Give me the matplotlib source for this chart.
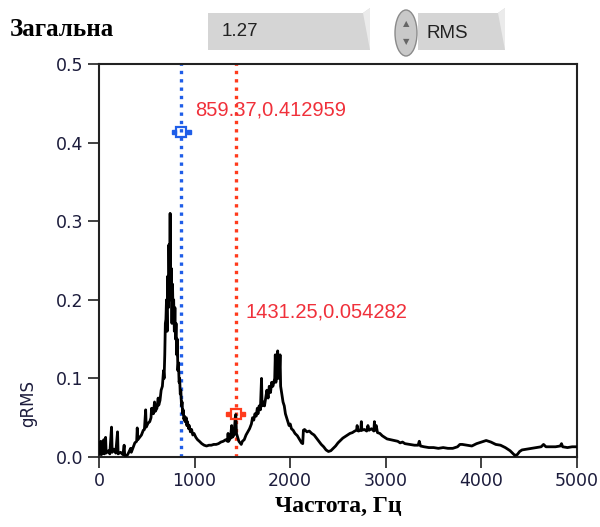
import matplotlib
matplotlib.use("Agg")
import matplotlib.pyplot as plt
from matplotlib.patches import Ellipse, Polygon

# spectrum (Hz, gRMS)
freq = [6, 19, 25, 44, 50, 56, 69, 75, 100, 113, 131, 138, 156, 175, 194, 200, 225, 250, 263, 269,
        288, 300, 331, 338, 356, 375, 394, 400, 406, 425, 444, 463, 475, 488, 494, 513, 531, 544, 550,
        569, 581, 588, 606, 619, 625, 638, 650, 663, 675, 681, 688, 694, 700, 706, 713, 719, 725, 731,
        738, 744, 750, 756, 763, 769, 775, 781, 788, 794, 800, 806, 813, 819, 825, 831, 838, 844, 850,
        856, 863, 869, 875, 881, 888, 894, 900, 913, 919, 925, 938, 944, 956, 969, 981, 994, 1013, 1031,
        1050, 1075, 1100, 1125, 1150, 1175, 1200, 1225, 1250, 1275, 1300, 1325, 1344, 1350, 1356, 1375,
        1388, 1394, 1413, 1425, 1431, 1438, 1450, 1463, 1475, 1488, 1500, 1519, 1538, 1556, 1575, 1594,
        1606, 1619, 1631, 1644, 1656, 1663, 1675, 1688, 1700, 1706, 1719, 1731, 1744, 1756, 1769, 1781,
        1794, 1806, 1819, 1838, 1844, 1850, 1863, 1869, 1875, 1888, 1894, 1900, 1913, 1925, 1938, 1950,
        1963, 1975, 1988, 2000, 2013, 2031, 2050, 2075, 2100, 2119, 2131, 2138, 2150, 2175, 2200, 2225,
        2250, 2275, 2300, 2325, 2350, 2375, 2400, 2425, 2450, 2475, 2500, 2525, 2550, 2575, 2600, 2625,
        2650, 2675, 2694, 2700, 2713, 2738, 2744, 2750, 2775, 2800, 2813, 2825, 2850, 2875, 2881, 2888,
        2900, 2913, 2938, 2963, 2988, 3013, 3050, 3088, 3125, 3150, 3175, 3200, 3250, 3300, 3338, 3350,
        3363, 3400, 3450, 3500, 3550, 3600, 3650, 3700, 3750, 3775, 3800, 3850, 3900, 3950, 4000, 4050,
        4075, 4100, 4150, 4200, 4250, 4300, 4325, 4350, 4375, 4400, 4425, 4475, 4525, 4575, 4625, 4650,
        4675, 4725, 4775, 4825, 4838, 4850, 4900, 4950, 5000]
grms = [0.004, 0.02, 0.003, 0.006, 0.022, 0.004, 0.025, 0.005, 0.008, 0.004, 0.038, 0.006, 0.01, 0.005,
        0.032, 0.004, 0.006, 0.003, 0.015, 0.002, 0.002, 0.003, 0.011, 0.006, 0.012, 0.018, 0.02, 0.037,
        0.022, 0.025, 0.028, 0.034, 0.035, 0.06, 0.038, 0.043, 0.045, 0.05, 0.062, 0.055, 0.07, 0.058,
        0.062, 0.075, 0.066, 0.072, 0.085, 0.09, 0.11, 0.1, 0.13, 0.17, 0.175, 0.2, 0.16, 0.23, 0.19,
        0.27, 0.21, 0.31, 0.2, 0.24, 0.17, 0.22, 0.18, 0.2, 0.16, 0.19, 0.15, 0.17, 0.13, 0.15, 0.11,
        0.12, 0.095, 0.1, 0.08, 0.085, 0.065, 0.07, 0.055, 0.06, 0.048, 0.052, 0.045, 0.05, 0.04, 0.045,
        0.036, 0.04, 0.032, 0.035, 0.028, 0.03, 0.025, 0.022, 0.02, 0.017, 0.015, 0.014, 0.015, 0.015,
        0.016, 0.016, 0.017, 0.019, 0.02, 0.022, 0.02, 0.03, 0.02, 0.024, 0.04, 0.025, 0.028, 0.05,
        0.054, 0.03, 0.025, 0.02, 0.018, 0.016, 0.02, 0.022, 0.028, 0.032, 0.036, 0.042, 0.05, 0.047,
        0.055, 0.052, 0.062, 0.055, 0.065, 0.06, 0.1, 0.065, 0.07, 0.065, 0.075, 0.085, 0.075, 0.09,
        0.082, 0.095, 0.09, 0.1, 0.13, 0.095, 0.11, 0.135, 0.1, 0.11, 0.13, 0.09, 0.08, 0.07, 0.065,
        0.055, 0.05, 0.045, 0.04, 0.042, 0.036, 0.034, 0.03, 0.027, 0.022, 0.018, 0.017, 0.034, 0.035,
        0.032, 0.033, 0.03, 0.028, 0.024, 0.02, 0.016, 0.013, 0.009, 0.007, 0.008, 0.011, 0.014, 0.018,
        0.021, 0.024, 0.026, 0.028, 0.03, 0.031, 0.033, 0.034, 0.04, 0.033, 0.034, 0.045, 0.034, 0.035,
        0.033, 0.04, 0.034, 0.036, 0.033, 0.045, 0.034, 0.04, 0.031, 0.03, 0.027, 0.025, 0.023, 0.022,
        0.021, 0.02, 0.018, 0.019, 0.017, 0.016, 0.015, 0.015, 0.02, 0.014, 0.013, 0.012, 0.012, 0.011,
        0.012, 0.011, 0.011, 0.013, 0.016, 0.016, 0.015, 0.014, 0.017, 0.019, 0.021, 0.02, 0.019, 0.016,
        0.015, 0.012, 0.008, 0.005, 0.002, 0.003, 0.007, 0.009, 0.01, 0.011, 0.012, 0.013, 0.016, 0.013,
        0.013, 0.013, 0.014, 0.017, 0.013, 0.012, 0.013, 0.013]

# cursors
cur_x = [859.37, 1431.25]
cur_y = [0.412959, 0.054282]
cur_col = ['#1f5ee8', '#ff3b1c']
cur_lbl = ['859.37,0.412959', '1431.25,0.054282']
lbl_pos = [(1005, 0.441), (1535, 0.184)]

total_value = '1.27'
mode = 'RMS'

xticks = [0, 1000, 2000, 3000, 4000, 5000]
yticks = [0.0, 0.1, 0.2, 0.3, 0.4, 0.5]

fig = plt.figure(figsize=(6.0, 5.27), dpi=100)
fig.patch.set_facecolor('white')

ax = fig.add_axes([99 / 600, 70 / 527, 478 / 600, 393 / 527])
ax.plot(freq, grms, color='black', lw=2.0, zorder=3)

for x, y, c in zip(cur_x, cur_y, cur_col):
    ax.axvline(x, color=c, ls=(0, (1, 1.5)), lw=2.4, zorder=2)
    ax.plot([x], [y], marker='s', ms=7, mfc='none', mec=c, mew=1.6, zorder=5)
    ax.plot([x - 80, x + 80], [y, y], ls='none', marker='s', ms=2.5, color=c, zorder=5)

for (tx, ty), t in zip(lbl_pos, cur_lbl):
    ax.text(tx, ty, t, color='#f0303a', fontsize=14.5, family='Liberation Sans',
            ha='left', va='center', zorder=6)

ax.set_xlim(0, 5000)
ax.set_ylim(0, 0.5)
ax.set_xticks(xticks)
ax.set_yticks(yticks)
ax.set_yticklabels(['%.1f' % v for v in yticks])
ax.tick_params(direction='out', length=8, width=1.3, labelsize=12.5, pad=3,
               labelcolor='#1c1c3c', color='#333333')
for s in ax.spines.values():
    s.set_linewidth(1.5)
    s.set_color('#222222')

ax.set_xlabel('Частота, Гц', family='Liberation Serif', fontweight='bold',
              fontsize=17, labelpad=4)
ax.set_ylabel('gRMS', fontsize=12, color='#1c1c3c')
ax.yaxis.set_label_coords(-0.13, 0.135)

# front panel controls above the graph (pixel coords)
ov = fig.add_axes([0, 0, 1, 1], zorder=-1)
ov.set_xlim(0, 600)
ov.set_ylim(527, 0)
ov.axis('off')

ov.text(10, 30, 'Загальна', family='Liberation Serif', fontweight='bold',
        fontsize=18, ha='left', va='center')

ov.add_patch(Polygon([(208, 50), (208, 13), (363, 13), (370, 8), (370, 50)],
                     closed=True, fc='#d5d5d5', ec='none'))
ov.add_patch(Polygon([(363, 13), (370, 8), (370, 50)], closed=True, fc='#ebebeb', ec='none'))
ov.text(222, 32, total_value, fontsize=13.5, family='Liberation Sans', color='#222222',
        ha='left', va='center')

ov.add_patch(Ellipse((406, 33), 22, 46, fc='#c9c9c9', ec='#8a8a8a', lw=1))
ov.text(406, 24, '▲', fontsize=6, color='#666666', ha='center', va='center')
ov.text(406, 42, '▼', fontsize=6, color='#666666', ha='center', va='center')

ov.add_patch(Polygon([(418, 50), (418, 13), (498, 13), (505, 8), (505, 50)],
                     closed=True, fc='#d5d5d5', ec='none'))
ov.add_patch(Polygon([(498, 13), (505, 8), (505, 50)], closed=True, fc='#ebebeb', ec='none'))
ov.text(426, 33, mode, fontsize=13.5, family='Liberation Sans', color='#222222',
        ha='left', va='center')

fig.savefig('out.png', dpi=100)
